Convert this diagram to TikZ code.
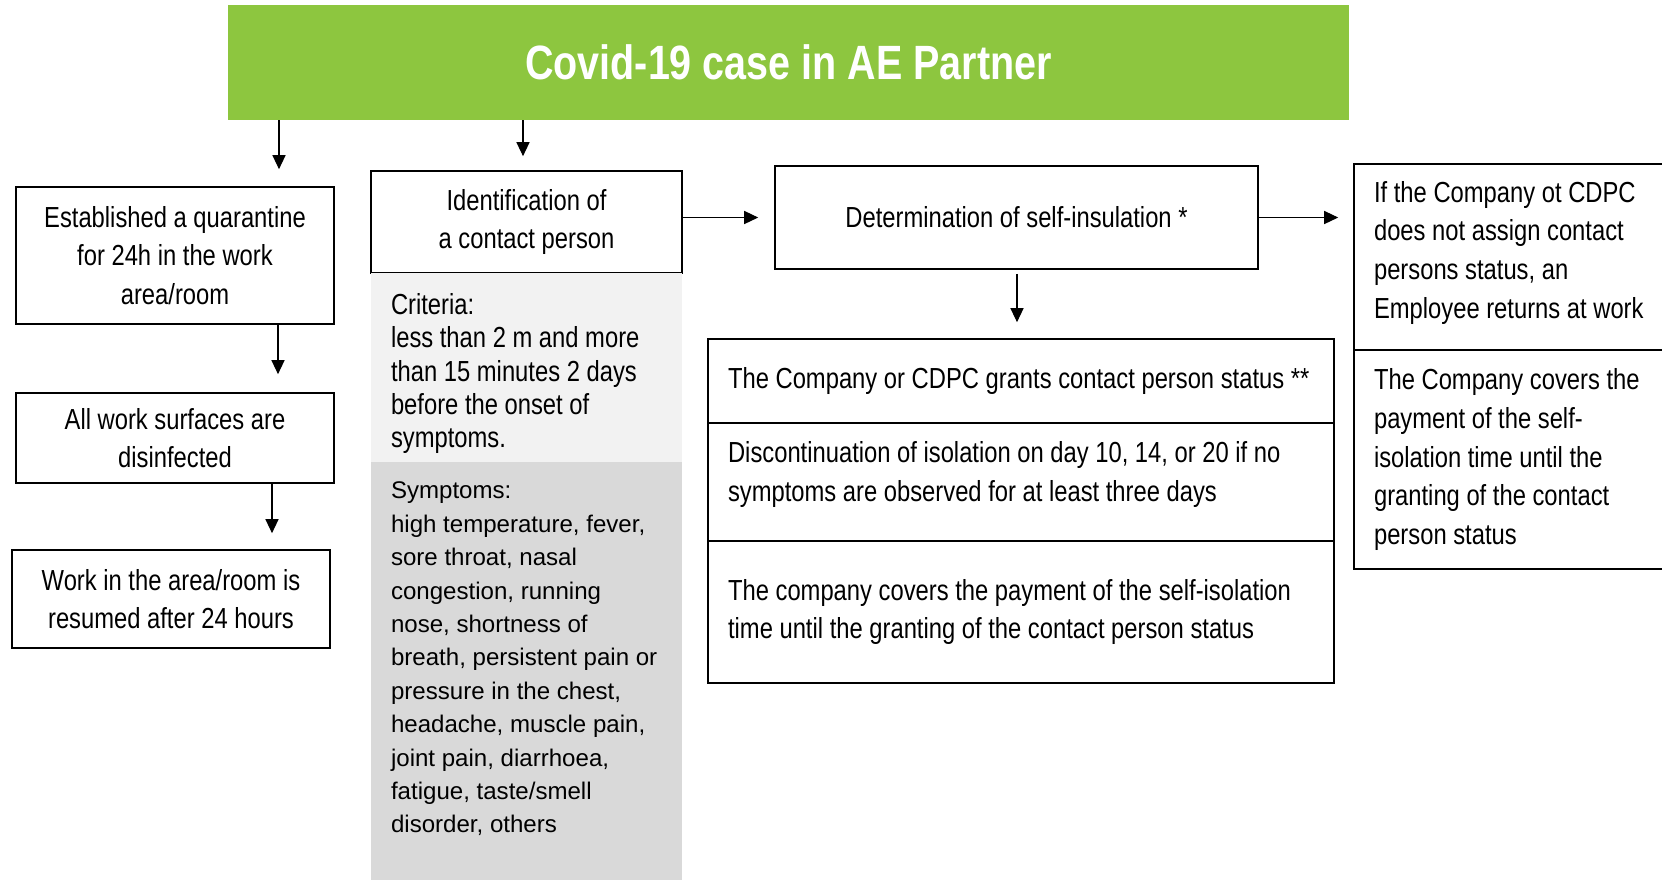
\documentclass[tikz,border=0pt]{standalone}
\usepackage{fontspec}
\setmainfont{Liberation Sans}[FakeStretch=0.82]
\newfontfamily\widefont{Liberation Sans}
\usetikzlibrary{positioning,arrows.meta}

\definecolor{covidgreen}{HTML}{8DC63F}
\definecolor{critgray}{HTML}{F2F2F2}
\definecolor{sympgray}{HTML}{D9D9D9}

\tikzset{
  box/.style={draw, line width=1pt, align=center, inner sep=0pt,
    font=\fontsize{16.5}{22}\selectfont},
  leftbox/.style={box, align=flush left, inner xsep=0.4cm},
  panel/.style={align=flush left, inner xsep=0.4cm, inner ysep=0pt, text width=5.42cm},
  arr/.style={-{Triangle[length=8pt,width=7.5pt]}, line width=0.6pt},
}

\begin{document}
\begin{tikzpicture}[x=0.02cm, y=-0.02cm]
\useasboundingbox (0,0) rectangle (1662,880);

% title
\node[fill=covidgreen, text=white, minimum width=22.42cm, minimum height=2.3cm,
  font=\fontsize{27.4}{32}\selectfont\bfseries] (banner) at (788.5,62.5) {Covid-19 case in AE Partner};

% work area column
\node[box, minimum width=6.36cm, minimum height=2.74cm] (quar) at (175,255.5)
  {Established a quarantine\\for 24h in the work\\area/room};
\node[box, minimum width=6.36cm, minimum height=1.8cm] (disinf) at (175,438)
  {All work surfaces are\\disinfected};
\node[box, minimum width=6.36cm, minimum height=1.96cm] (resume) at (171,599)
  {Work in the area/room is\\resumed after 24 hours};

% contact person column
\node[box, minimum width=6.22cm, minimum height=2.04cm] (ident) at (526.5,222)
  {Identification of\\a contact person};
\node[panel, fill=critgray, minimum height=3.78cm, font=\fontsize{16.5}{18.9}\selectfont] (crit) at (526.5,367.5)
  {\rule{0pt}{19pt}Criteria:\\less than 2 m and more\\than 15 minutes 2 days\\before the onset of\\symptoms.};
\node[panel, fill=sympgray, minimum height=7.88cm, font=\widefont\fontsize{13.7}{19}\selectfont] (symp) at (526.5,659)
  {Symptoms:\\high temperature, fever,\\sore throat, nasal\\congestion, running\\nose, shortness of\\breath, persistent pain or\\pressure in the chest,\\headache, muscle pain,\\joint pain, diarrhoea,\\fatigue, taste/smell\\disorder, others};
\fill[sympgray] (symp.south west) rectangle (symp.south east |- 0,880);

% self-isolation column
\node[box, minimum width=9.66cm, minimum height=2.06cm] (determ) at (1016.5,217.5)
  {Determination of self-insulation *};
\node[leftbox, text width=11.72cm, minimum height=1.68cm] (grant) at (1021,381)
  {\makebox[11.72cm][l]{The Company or CDPC grants contact person status **}};
\node[leftbox, text width=11.72cm, minimum height=2.36cm] (discont) at (1021,482)
  {Discontinuation of isolation on day 10, 14, or 20 if no\\symptoms are observed for at least three days\rule[-12pt]{0pt}{12pt}};
\node[leftbox, text width=11.72cm, minimum height=2.84cm] (covers) at (1021,612)
  {The company covers the payment of the self-isolation\\time until the granting of the contact person status};

% no status column
\node[leftbox, text width=5.7cm, minimum height=3.72cm] (noassign) at (1516.5,257)
  {If the Company ot CDPC\\does not assign contact\\persons status, an\\Employee returns at work\rule[-8.3pt]{0pt}{8.3pt}};
\node[leftbox, text width=5.7cm, minimum height=4.38cm] (compcov) at (1516.5,459.5)
  {The Company covers the\\payment of the self-\\isolation time until the\\granting of the contact\\person status};

% arrows
\coordinate (x1) at (279,0);
\coordinate (x2) at (523,0);
\coordinate (x3) at (278,0);
\coordinate (x4) at (272,0);
\coordinate (x5) at (1017,0);
\draw[arr, shorten >=0.34cm] (banner.south -| x1) -- (quar.north -| x1);
\draw[arr, shorten >=0.28cm] (banner.south -| x2) -- (ident.north -| x2);
\draw[arr, shorten >=0.36cm] (quar.south -| x3) -- (disinf.north -| x3);
\draw[arr, shorten >=0.32cm] (disinf.south -| x4) -- (resume.north -| x4);
\draw[arr, shorten >=0.32cm] (ident.east |- determ.west) -- (determ.west);
\draw[arr, shorten >=0.3cm] (determ.east) -- (noassign.west |- determ.east);
\draw[arr, shorten <=0.08cm, shorten >=0.32cm] (determ.south -| x5) -- (grant.north -| x5);
\end{tikzpicture}
\end{document}
